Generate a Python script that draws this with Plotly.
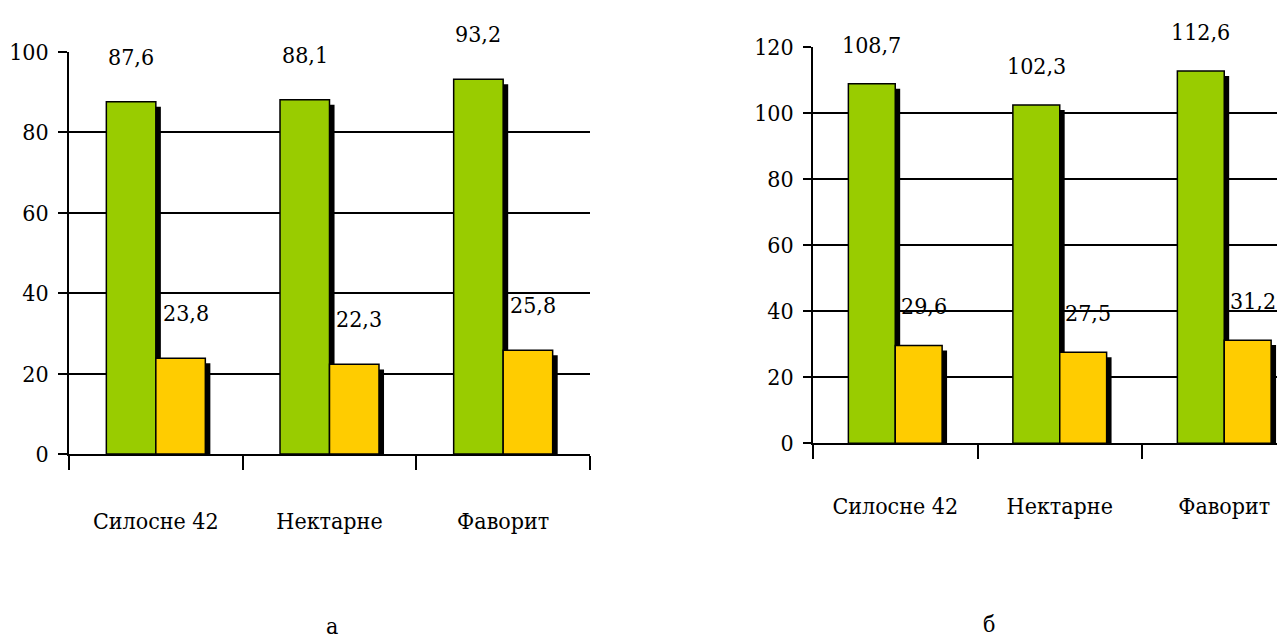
import plotly.graph_objects as go

categories = ["Силосне 42", "Нектарне", "Фаворит"]
# panel а
a_green = [87.6, 88.1, 93.2]
a_yellow = [23.8, 22.3, 25.8]
# panel б
b_green = [108.7, 102.3, 112.6]
b_yellow = [29.6, 27.5, 31.2]

a_ticks = [0, 20, 40, 60, 80, 100]
b_ticks = [0, 20, 40, 60, 80, 100, 120]
panel_labels = ["а", "б"]

GREEN = "#99CC00"
YELLOW = "#FFCC00"
FONT = "DejaVu Serif Condensed, DejaVu Serif"
FS = 23
W = 0.285  # bar width (category units)


def fmt(v):
    return f"{v:.1f}".replace(".", ",")


fig = go.Figure()
annotations = []


def add_panel(green, yellow, xa, ya, dx, dy, label_shift):
    xref = "x" if xa == "x1" else xa
    yref = "y" if ya == "y1" else ya
    kw = dict(xaxis=xref, yaxis=yref, showlegend=False, hoverinfo="skip")
    # shadows
    fig.add_trace(go.Bar(x=categories, y=[v - dy for v in green], offset=-W + dx, width=W,
                         marker=dict(color="black", line=dict(width=0)), **kw))
    fig.add_trace(go.Bar(x=categories, y=[v - dy for v in yellow], offset=dx, width=W,
                         marker=dict(color="black", line=dict(width=0)), **kw))
    # bars
    fig.add_trace(go.Bar(x=categories, y=green, offset=-W, width=W,
                         marker=dict(color=GREEN, line=dict(color="black", width=1.5)), **kw))
    fig.add_trace(go.Bar(x=categories, y=yellow, offset=0, width=W,
                         marker=dict(color=YELLOW, line=dict(color="black", width=1.5)), **kw))
    for i, (g, yv) in enumerate(zip(green, yellow)):
        annotations.append(dict(x=i - W / 2, y=g, xref=xref, yref=yref, text=fmt(g),
                                showarrow=False, yshift=label_shift, yanchor="middle",
                                font=dict(family=FONT, size=FS, color="black")))
        annotations.append(dict(x=i + W / 2, y=yv, xref=xref, yref=yref, text=fmt(yv),
                                showarrow=False, yshift=label_shift, xshift=5, yanchor="middle",
                                font=dict(family=FONT, size=FS, color="black")))


add_panel(a_green, a_yellow, "x1", "y1", 0.029, 1.25, 45)
add_panel(b_green, b_yellow, "x2", "y2", 0.030, 1.5, 39)

for i, t in enumerate(panel_labels):
    annotations.append(dict(x=[332 / 1277, 989 / 1277][i], y=[16 / 642, 18 / 642][i],
                            xref="paper", yref="paper", text=t, showarrow=False,
                            xanchor="center", yanchor="middle",
                            font=dict(family=FONT, size=FS, color="black")))

tickfont = dict(family=FONT, size=FS, color="black")


def xaxis(domain, rng, standoff):
    return dict(domain=domain, range=rng, type="category", showgrid=False, zeroline=False,
                showline=True, linecolor="black", linewidth=2, ticks="outside", tickson="boundaries",
                ticklen=14, tickwidth=1.5, tickcolor="black", tickfont=tickfont,
                ticklabelstandoff=standoff, automargin=False, fixedrange=True)


def yaxis(domain, rng, tickvals, anchor, ticklen):
    return dict(domain=domain, range=rng, tickvals=tickvals, showgrid=True, gridcolor="black",
                gridwidth=2, zeroline=False, showline=True, linecolor="black", linewidth=1.5,
                ticks="outside", ticklen=ticklen, tickwidth=2, tickcolor="black", tickfont=tickfont,
                ticklabelstandoff=5, anchor=anchor, automargin=False, fixedrange=True)


fig.update_layout(
    width=1277, height=642,
    margin=dict(l=0, r=0, t=0, b=0),
    paper_bgcolor="white", plot_bgcolor="white",
    barmode="overlay",
    font=dict(family=FONT, size=FS, color="black"),
    xaxis=xaxis([69 / 1277, 590 / 1277], [-0.5, 2.5], 45),
    yaxis=yaxis([188 / 642, 590 / 642], [0, 100], a_ticks, "x", 9),
    xaxis2=dict(xaxis([813 / 1277, 1.0], [-0.5, 2.3207], 41), anchor="y2"),
    yaxis2=yaxis([198.7 / 642, 595.5 / 642], [0, 120], b_ticks, "x2", 8),
    annotations=annotations,
)
fig.update_layout(xaxis=dict(anchor="y"))

fig.write_html(
    "out.html",
    config={"displayModeBar": False},
    post_script="document.body.style.margin='0';document.body.style.padding='0';"
                "document.body.style.overflow='hidden';",
)
